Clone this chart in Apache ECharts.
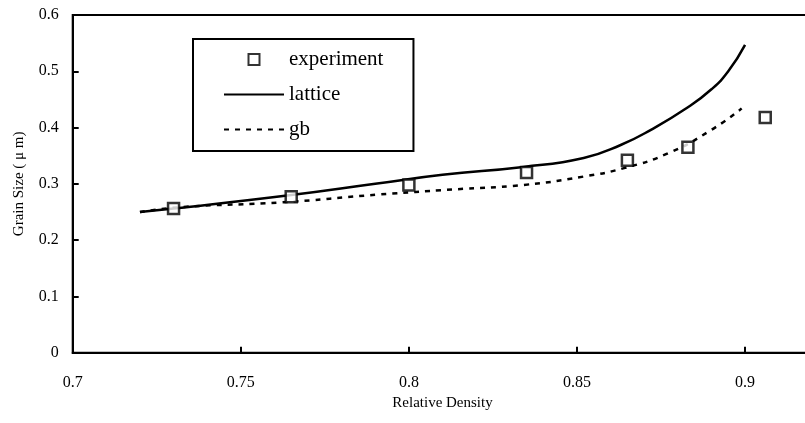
<!DOCTYPE html>
<html>
<head>
<meta charset="utf-8">
<script src="https://cdn.jsdelivr.net/npm/echarts@6/dist/echarts.min.js"></script>
<style>html,body{margin:0;padding:0;background:#fff}#c{width:805px;height:423px}</style>
</head>
<body>
<div id="c"></div>
<script>
const expX = [0.730, 0.765, 0.800, 0.835, 0.865, 0.883, 0.906];
const expY = [0.256, 0.277, 0.298, 0.320, 0.342, 0.365, 0.418];
const latX = [0.720, 0.730, 0.765, 0.790, 0.810, 0.834, 0.852, 0.863, 0.872, 0.883, 0.890, 0.895, 0.900];
const latY = [0.250, 0.256, 0.280, 0.300, 0.316, 0.330, 0.346, 0.369, 0.396, 0.436, 0.468, 0.500, 0.547];
const gbX = [0.720, 0.733, 0.762, 0.791, 0.813, 0.834, 0.852, 0.864, 0.877, 0.890, 0.899];
const gbY = [0.250, 0.259, 0.267, 0.281, 0.290, 0.298, 0.313, 0.328, 0.354, 0.396, 0.434];
const xTicks = [0.7, 0.75, 0.8, 0.85, 0.9];
const yTicks = [0, 0.1, 0.2, 0.3, 0.4, 0.5, 0.6];

const zip = (a, b) => a.map((v, i) => [v, b[i]]);
const font = '"Liberation Serif", "DejaVu Serif", serif';
const hidden = {color: 'rgba(0,0,0,0)', borderColor: 'rgba(0,0,0,0)', borderWidth: 0};
const chart = echarts.init(document.getElementById('c'), null, {renderer: 'canvas'});
chart.setOption({
  animation: false,
  backgroundColor: '#fff',
  grid: {left: 72.7, width: 739.6, top: 15, height: 337.7, outerBoundsMode: 'none', containLabel: false,
    show: true, borderColor: '#000', borderWidth: 2, backgroundColor: 'transparent'},
  xAxis: {
    type: 'value', min: 0.7, max: 0.92, interval: 0.05,
    name: 'Relative Density', nameLocation: 'middle', nameGap: 40,
    nameTextStyle: {fontFamily: font, fontSize: 15, color: '#000'},
    axisLine: {lineStyle: {color: '#000', width: 2}},
    axisTick: {inside: true, length: 6, lineStyle: {color: '#000', width: 2}},
    axisLabel: {fontFamily: font, fontSize: 16, color: '#000', margin: 22,
      formatter: v => xTicks.some(t => Math.abs(t - v) < 1e-9) ? String(+v.toFixed(2)) : ''},
    splitLine: {show: false}
  },
  yAxis: {
    type: 'value', min: 0, max: 0.6, interval: 0.1,
    name: 'Grain Size ( μ m)', nameLocation: 'middle', nameGap: 46,
    nameTextStyle: {fontFamily: font, fontSize: 15, color: '#000'},
    axisLine: {lineStyle: {color: '#000', width: 2}},
    axisTick: {inside: true, length: 6, lineStyle: {color: '#000', width: 2}},
    axisLabel: {fontFamily: font, fontSize: 16, color: '#000', margin: 14,
      formatter: v => yTicks.some(t => Math.abs(t - v) < 1e-9) ? String(+v.toFixed(1)) : ''},
    splitLine: {show: false}
  },
  legend: {
    orient: 'vertical', left: 193, top: 39,
    borderColor: '#000', borderWidth: 2,
    padding: [10, 30, 11, 30],
    itemWidth: 60, itemHeight: 11, itemGap: 14,
    symbolKeepAspect: true,
    textStyle: {fontFamily: font, fontSize: 21, color: '#000'},
    data: [
      {name: 'experiment', icon: 'path://M0,0H10V10H0Z'},
      {name: 'lattice', itemStyle: hidden},
      {name: 'gb', itemStyle: hidden}
    ]
  },
  series: [
    {
      name: 'lattice', type: 'line', data: zip(latX, latY),
      smooth: 0.5, symbol: 'none', showSymbol: false,
      lineStyle: {color: '#000', width: 2.5}, itemStyle: {color: '#000'}
    },
    {
      name: 'gb', type: 'line', data: zip(gbX, gbY),
      smooth: 0.5, symbol: 'none', showSymbol: false,
      lineStyle: {color: '#000', width: 2.5, type: [5, 6]}, itemStyle: {color: '#000'}
    },
    {
      name: 'experiment', type: 'scatter', data: zip(expX, expY),
      symbol: 'rect', symbolSize: 11, z: 5,
      itemStyle: {color: '#fff', borderColor: '#000', borderWidth: 2.5}
    }
  ]
});
</script>
</body>
</html>
